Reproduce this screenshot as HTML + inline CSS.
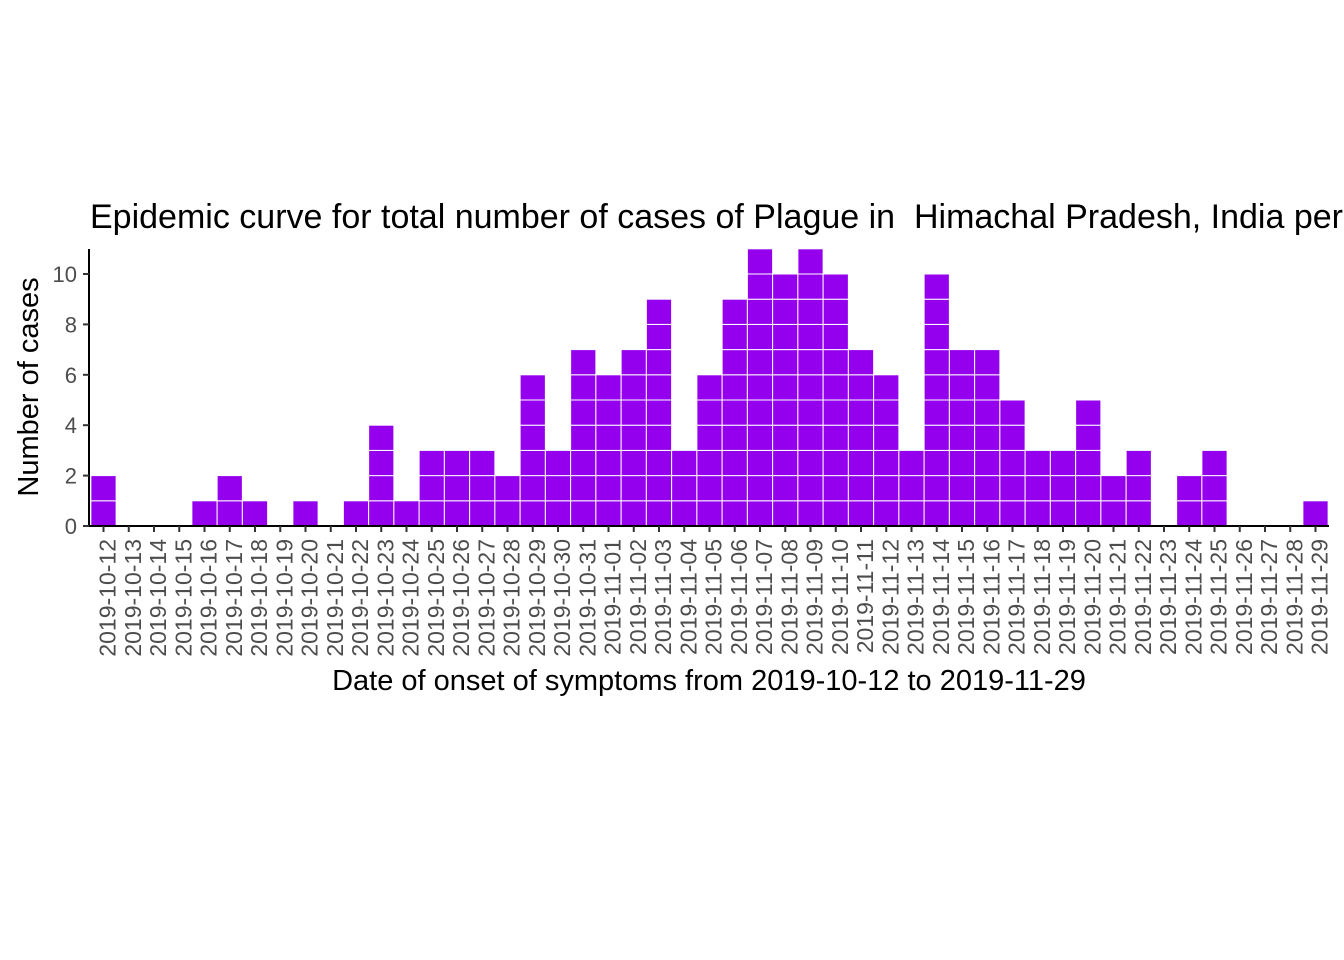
<!DOCTYPE html>
<html><head><meta charset="utf-8"><style>
html,body{margin:0;padding:0;background:#fff;}
svg{display:block;font-family:"Liberation Sans",Arial,sans-serif;}
</style></head><body>
<svg id="chart" width="1344" height="960" viewBox="0 0 1344 960">
<rect width="1344" height="960" fill="#fff"/>
<text x="90" y="228" font-size="34" fill="#000">Epidemic curve for total number of cases of Plague in&#160; Himachal Pradesh, India per</text>
<g id="bars"></g>
<g id="axes"></g>
<text x="709" y="690" font-size="29" text-anchor="middle" fill="#000">Date of onset of symptoms from 2019-10-12 to 2019-11-29</text>
<text transform="translate(38,387) rotate(-90)" font-size="29" text-anchor="middle" fill="#000">Number of cases</text>
</svg>
<script>
const dates = ["2019-10-12","2019-10-13","2019-10-14","2019-10-15","2019-10-16","2019-10-17","2019-10-18","2019-10-19","2019-10-20","2019-10-21","2019-10-22","2019-10-23","2019-10-24","2019-10-25","2019-10-26","2019-10-27","2019-10-28","2019-10-29","2019-10-30","2019-10-31","2019-11-01","2019-11-02","2019-11-03","2019-11-04","2019-11-05","2019-11-06","2019-11-07","2019-11-08","2019-11-09","2019-11-10","2019-11-11","2019-11-12","2019-11-13","2019-11-14","2019-11-15","2019-11-16","2019-11-17","2019-11-18","2019-11-19","2019-11-20","2019-11-21","2019-11-22","2019-11-23","2019-11-24","2019-11-25","2019-11-26","2019-11-27","2019-11-28","2019-11-29"];
const cases = [2,0,0,0,1,2,1,0,1,0,1,4,1,3,3,3,2,6,3,7,6,7,9,3,6,9,11,10,11,10,7,6,3,10,7,7,5,3,3,5,2,3,0,2,3,0,0,0,1];
const yTicks = [0,2,4,6,8,10];
const NS="http://www.w3.org/2000/svg";
const x0=103.5, step=(1315.5-103.5)/48, bw=step;
const yBase=526, unit=25.2;
const xS=i=>x0+i*step, yS=v=>yBase-v*unit;
const bars=document.getElementById('bars'), axes=document.getElementById('axes');
function mk(tag,attrs,parent){const e=document.createElementNS(NS,tag);for(const k in attrs)e.setAttribute(k,attrs[k]);parent.appendChild(e);return e;}
cases.forEach((v,i)=>{
  for(let k=0;k<v;k++){
    const r=mk('rect',{x:xS(i)-bw/2,y:yS(k+1),width:bw,height:unit,fill:'#9400ee',stroke:'#fff','stroke-width':1},bars);
    
    
  }
});
const ya=mk('line',{x1:89,y1:249,x2:89,y2:527,stroke:'#000','stroke-width':2},axes);


const xa=mk('line',{x1:88,y1:526,x2:1329,y2:526,stroke:'#000','stroke-width':2},axes);


yTicks.forEach(t=>{
  mk('line',{x1:83,y1:yS(t),x2:89,y2:yS(t),stroke:'#333','stroke-width':2},axes);
  const tx=mk('text',{x:77,y:yS(t)+8,'font-size':22,'text-anchor':'end',fill:'#4d4d4d'},axes);
  tx.textContent=t;
  
  
});
dates.forEach((d,i)=>{
  mk('line',{x1:xS(i),y1:526,x2:xS(i),y2:532,stroke:'#333','stroke-width':2},axes);
  const tx=mk('text',{transform:`translate(${xS(i)+12},539) rotate(-90)`,'font-size':23,'text-anchor':'end',fill:'#4d4d4d'},axes);
  tx.textContent=d;
  
  
});
</script>
</body></html>
